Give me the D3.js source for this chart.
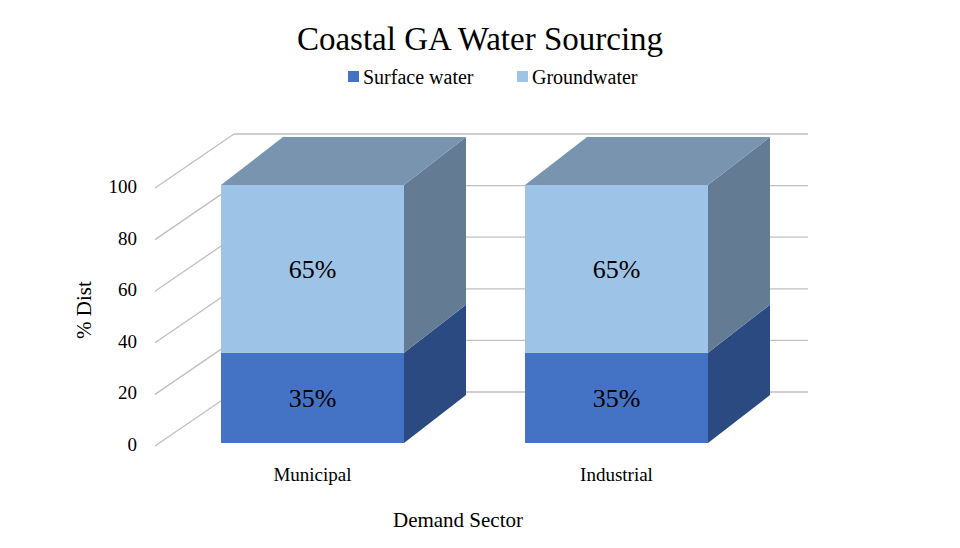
<!DOCTYPE html>
<html><head><meta charset="utf-8">
<script src="https://cdn.jsdelivr.net/npm/d3@7"></script>
<style>body{margin:0;background:#fff}svg text{font-family:"Liberation Serif","Times New Roman",serif;fill:#000}</style>
</head><body><svg id="c" width="960" height="548"></svg>
<script>
const categories = ["Municipal", "Industrial"];
const seriesNames = ["Surface water", "Groundwater"];
const surface = [35, 35];
const ground = [65, 65];
const ticks = [0, 20, 40, 60, 80, 100];

const svg = d3.select("#c");
const y = d3.scaleLinear().domain([0, 100]).range([443, 185]);
const x = d3.scaleBand().domain(categories).range([221, 708]).paddingInner(0.398).paddingOuter(0);
const dx = 62, dy = -48;
const wallDx = 79, wallDy = -54;

ticks.forEach(t => {
  const yf = y(t);
  svg.append("line").attr("x1", 155).attr("y1", yf + 3).attr("x2", 155 + wallDx).attr("y2", yf + 3 + wallDy)
    .attr("stroke", "#bfbfbf").attr("stroke-width", 1.3);
  svg.append("line").attr("x1", 155 + wallDx).attr("y1", yf + 3 + wallDy).attr("x2", 808).attr("y2", yf + 3 + wallDy)
    .attr("stroke", "#bfbfbf").attr("stroke-width", 1.3);
  svg.append("text").attr("x", 137).attr("y", yf + 8).attr("text-anchor", "end").attr("font-size", 19).text(t);
});

const series = [
  {vals: surface, base: categories.map(() => 0), front: "#4472c4", side: "#2b4a81", top: "#5a7fbf"},
  {vals: ground, base: surface, front: "#9dc3e6", side: "#637b93", top: "#7894af"}
];
series.forEach((s, si) => {
  categories.forEach((c, i) => {
    const x0 = x(c), x1 = x0 + x.bandwidth();
    const yb = y(s.base[i]), yt = y(s.base[i] + s.vals[i]);
    svg.append("polygon").attr("points", [[x1, yb], [x1 + dx, yb + dy], [x1 + dx, yt + dy], [x1, yt]].join(" ")).attr("fill", s.side);
    if (si === series.length - 1)
      svg.append("polygon").attr("points", [[x0, yt], [x0 + dx, yt + dy], [x1 + dx, yt + dy], [x1, yt]].join(" ")).attr("fill", s.top);
    svg.append("rect").attr("x", x0).attr("y", yt).attr("width", x1 - x0).attr("height", yb - yt).attr("fill", s.front);
    svg.append("text").attr("x", (x0 + x1) / 2).attr("y", (yb + yt) / 2 + 9).attr("text-anchor", "middle")
      .attr("font-size", 26).text(s.vals[i] + "%");
  });
});

categories.forEach(c => {
  svg.append("text").attr("x", x(c) + x.bandwidth() / 2).attr("y", 481).attr("text-anchor", "middle").attr("font-size", 19).text(c);
});

svg.append("text").attr("x", 480).attr("y", 50).attr("text-anchor", "middle").attr("font-size", 33).text("Coastal GA Water Sourcing");
svg.append("text").attr("x", 458).attr("y", 527).attr("text-anchor", "middle").attr("font-size", 21).text("Demand Sector");
svg.append("text").attr("transform", "translate(91,310) rotate(-90)").attr("text-anchor", "middle").attr("font-size", 21).text("% Dist");

const leg = [{n: seriesNames[0], c: "#4472c4", x: 348}, {n: seriesNames[1], c: "#9dc3e6", x: 517}];
leg.forEach(l => {
  svg.append("rect").attr("x", l.x).attr("y", 71).attr("width", 11).attr("height", 11).attr("fill", l.c);
  svg.append("text").attr("x", l.x + 15).attr("y", 84).attr("font-size", 20).text(l.n);
});
</script></body></html>
